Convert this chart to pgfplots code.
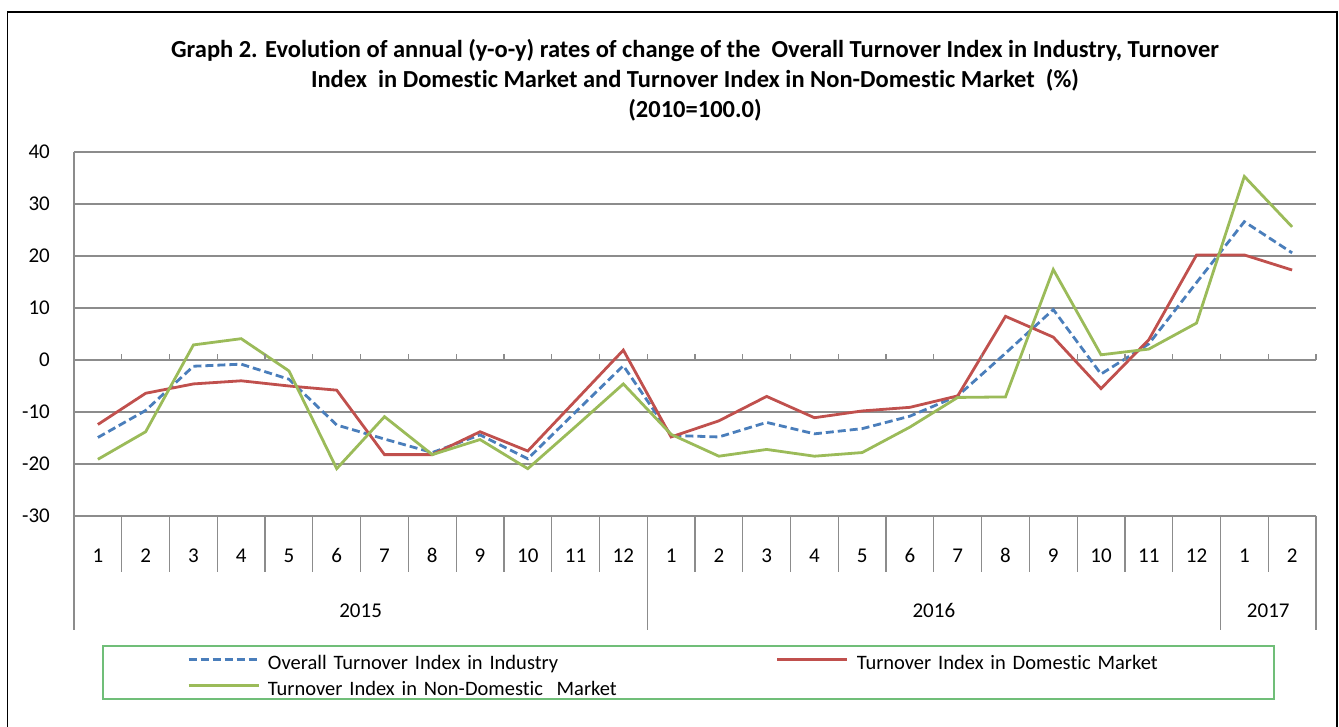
\documentclass[border=0pt]{standalone}
\usepackage{fontspec}
\setmainfont{Carlito}[Ligatures=NoCommon]
\usepackage{pgfplots}
\usepackage{pgfplotstable}
\pgfplotsset{compat=1.18}
\definecolor{sblue}{HTML}{4A7EBB}
\definecolor{sred}{HTML}{C0504D}
\definecolor{sgreen}{HTML}{9BBB59}
\definecolor{gridc}{HTML}{8C8C8C}
\definecolor{leggreen}{HTML}{70BE78}

\pgfplotstableread{
x overall domestic nondomestic
1  -14.9 -12.4 -19.1
2  -9.7  -6.4  -13.8
3  -1.2  -4.6  2.9
4  -0.8  -4.0  4.1
5  -3.7  -5.0  -2.1
6  -12.5 -5.8  -20.9
7  -15.2 -18.2 -10.9
8  -17.8 -18.2 -18.2
9  -14.4 -13.8 -15.3
10 -19.0 -17.5 -20.9
11 -10.0 -7.8  -12.8
12 -1.1  1.9   -4.6
13 -14.5 -14.8 -14.3
14 -14.8 -11.7 -18.5
15 -12.0 -7.0  -17.2
16 -14.2 -11.1 -18.5
17 -13.2 -9.8  -17.8
18 -10.8 -9.1  -12.9
19 -6.9  -6.9  -7.2
20 1.3   8.4   -7.1
21 9.7   4.4   17.4
22 -2.7  -5.5  1.0
23 3.1   3.9   2.1
24 14.9  20.2  7.1
25 26.6  20.2  35.3
26 20.6  17.3  25.6
}\datatable

\begin{document}
\begin{tikzpicture}
\useasboundingbox (0,0) rectangle (1339bp,727bp);
% outer frame
\draw[black, line width=1.4bp] (7.5bp,-2bp) -- (7.5bp,715bp) -- (1337bp,715bp) -- (1337bp,-2bp);
% title
\node[align=center, font=\fontsize{24.5bp}{30bp}\selectfont\bfseries] at (695bp,647bp)
 {Graph 2. Evolution of annual (y-o-y) rates of change of the\ \ Overall Turnover Index in Industry, Turnover\\
  Index\ \ in Domestic Market and Turnover Index in Non-Domestic Market\ \ (\%)\\
  (2010=100.0)};
\begin{axis}[
  at={(74bp,211bp)}, anchor=south west,
  scale only axis, width=1242bp, height=364bp,
  xmin=0.5, xmax=26.5, ymin=-30, ymax=40,
  axis line style={draw=none},
  ytick={-30,-20,...,40},
  yticklabels={-30,-20,-10,0,10,20,30,40},
  ymajorgrids, grid style={gridc, line width=1.2bp},
  xtick={1,...,26},
  xticklabels={1,2,3,4,5,6,7,8,9,10,11,12,1,2,3,4,5,6,7,8,9,10,11,12,1,2},
  tick style={draw=none},
  tick label style={font=\fontsize{21bp}{24bp}\selectfont, text height=13.3bp, text depth=0pt},
  yticklabel style={anchor=east, inner sep=0pt, xshift=-24bp},
  xticklabel style={anchor=center, inner sep=0pt, yshift=-40bp},
  legend columns=2,
  legend cell align=left,
  legend image code/.code={\path[draw=none] (0bp,-5.5bp) -- (70bp,5.5bp); \draw[#1] (0bp,5.5bp) -- (70bp,5.5bp);},
  legend style={draw=none, fill=none, inner sep=0pt, at={(0.09098,-0.38187)}, anchor=north west,
    column sep=8bp, row sep=7bp,
    font=\fontsize{20.5bp}{24bp}\selectfont,
    nodes={inner sep=0pt, text height=14bp, text depth=5bp, text width=500bp}},
]
\addplot[sblue, line width=2.8bp, dash pattern=on 8bp off 4bp] table[x=x, y=overall] {\datatable};
\addlegendentry{Overall Turnover Index in Industry}
\addplot[sred, line width=2.8bp] table[x=x, y=domestic] {\datatable};
\addlegendentry{Turnover Index in Domestic Market}
\addplot[sgreen, line width=2.8bp] table[x=x, y=nondomestic] {\datatable};
\addlegendentry{Turnover Index in Non-Domestic\ \ Market}
\end{axis}
% axis lines and category separators
\def\cw{47.76923}
\draw[gridc, line width=1.2bp] (74bp,575bp) -- (74bp,97bp);
\foreach \k in {1,...,11,13,14,...,23,25}
  \draw[gridc, line width=1.2bp] ({74bp+\k*\cw bp},211bp) -- ++(0,-56bp);
\foreach \k in {12,24,26}
  \draw[gridc, line width=1.2bp] ({74bp+\k*\cw bp},211bp) -- ++(0,-114bp);
\foreach \k in {1,...,26}
  \draw[gridc, line width=1.2bp] ({74bp+\k*\cw bp},367bp) -- ++(0,6bp);
% year labels
\foreach \k/\yr in {6/2015,18/2016,25/2017}
  \node[font=\fontsize{21bp}{24bp}\selectfont, inner sep=0pt, text height=13.3bp, text depth=0pt] at ({74bp+\k*\cw bp},116bp) {\yr};
% legend box
\draw[leggreen, line width=1.3bp] (103bp,28bp) rectangle (1274bp,81bp);
\end{tikzpicture}
\end{document}
